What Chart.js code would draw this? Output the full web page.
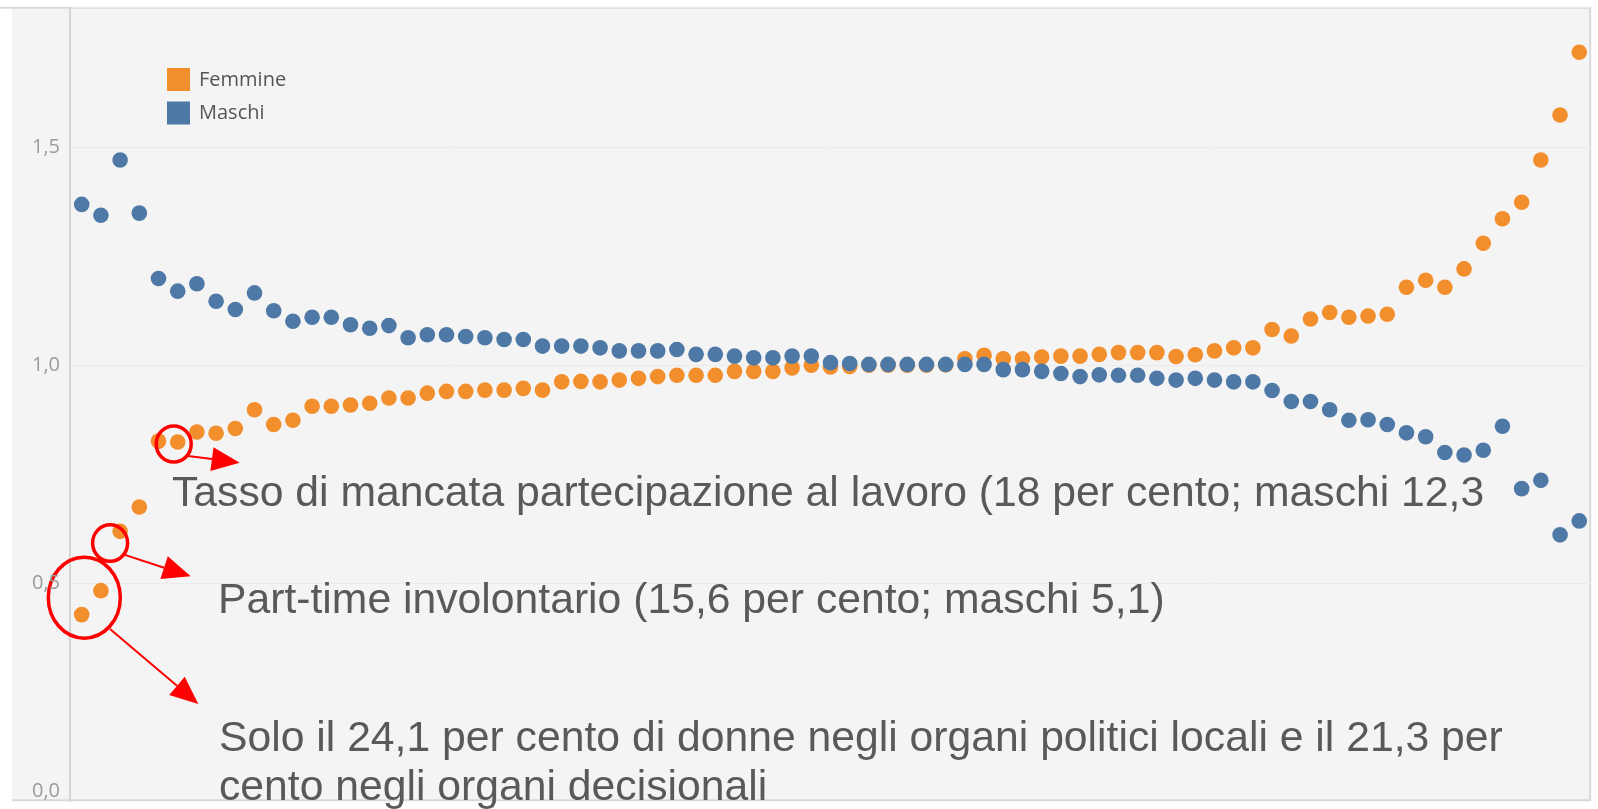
<!DOCTYPE html>
<html>
<head>
<meta charset="utf-8">
<script src="https://cdn.jsdelivr.net/npm/chart.js@4.4.0/dist/chart.umd.min.js"></script>
<style>
  html, body { margin: 0; padding: 0; background: #ffffff; }
  canvas { display: block; }
</style>
</head>
<body>
<canvas id="chart_indicatori_genere" width="1598" height="809"></canvas>
<script>
// indicatori (posizione sull'asse x, etichette non mostrate)
var categorie = [
  1, 2, 3, 4, 5, 6, 7, 8, 9, 10, 11, 12, 13, 14, 15, 16, 17, 18, 19, 20,
  21, 22, 23, 24, 25, 26, 27, 28, 29, 30, 31, 32, 33, 34, 35, 36, 37, 38, 39, 40,
  41, 42, 43, 44, 45, 46, 47, 48, 49, 50, 51, 52, 53, 54, 55, 56, 57, 58, 59, 60,
  61, 62, 63, 64, 65, 66, 67, 68, 69, 70, 71, 72, 73, 74, 75, 76, 77, 78, 79
];

var femmine = [
  0.428, 0.483, 0.619, 0.675, 0.826, 0.824, 0.847, 0.844, 0.855, 0.898,
  0.864, 0.874, 0.906, 0.906, 0.909, 0.913, 0.925, 0.925, 0.936, 0.940,
  0.940, 0.943, 0.943, 0.947, 0.943, 0.962, 0.963, 0.962, 0.966, 0.970,
  0.974, 0.977, 0.977, 0.977, 0.986, 0.986, 0.986, 0.994, 1.000, 0.996,
  0.997, 1.000, 1.000, 1.000, 1.000, 1.001, 1.015, 1.023, 1.015, 1.015,
  1.019, 1.021, 1.021, 1.025, 1.029, 1.029, 1.029, 1.020, 1.024, 1.033,
  1.040, 1.040, 1.082, 1.067, 1.106, 1.121, 1.110, 1.113, 1.117, 1.179,
  1.195, 1.179, 1.221, 1.280, 1.336, 1.374, 1.471, 1.574, 1.718
];

var maschi = [
  1.369, 1.344, 1.471, 1.349, 1.199, 1.170, 1.187, 1.147, 1.128, 1.166,
  1.125, 1.101, 1.110, 1.110, 1.093, 1.085, 1.091, 1.063, 1.070, 1.070,
  1.066, 1.063, 1.059, 1.059, 1.044, 1.044, 1.044, 1.040, 1.033, 1.033,
  1.033, 1.036, 1.025, 1.025, 1.021, 1.017, 1.017, 1.021, 1.021, 1.006,
  1.004, 1.002, 1.002, 1.002, 1.002, 1.002, 1.002, 1.002, 0.990, 0.990,
  0.986, 0.981, 0.974, 0.978, 0.977, 0.977, 0.970, 0.966, 0.970, 0.966,
  0.962, 0.962, 0.942, 0.917, 0.917, 0.898, 0.874, 0.875, 0.864, 0.845,
  0.836, 0.800, 0.794, 0.805, 0.860, 0.717, 0.736, 0.611, 0.643
];

var serie = ['Femmine', 'Maschi'];
var coloriSerie = ['#f28e2b', '#4e79a7'];

var yTickValori = [0, 0.5, 1, 1.5];
var yTickEtichette = ['0,0', '0,5', '1,0', '1,5'];

// note: testo, punti Femmine cerchiati
var noteTesti = [
  ['Tasso di mancata partecipazione al lavoro (18 per cento; maschi 12,3'],
  ['Part-time involontario (15,6 per cento; maschi 5,1)'],
  ['Solo il 24,1 per cento di donne negli organi politici locali e il 21,3 per', 'cento negli organi decisionali']
];
var notePunti = [[5], [2], [0, 1]];

function punti(valori) {
  return valori.map(function (v, i) { return { x: i, y: v }; });
}

// geometria delle note, relativa al punto cerchiato
var noteForme = [
  { dx: -4, dy: 2, rx: 17.5, ry: 18, sx: 10.5, sy: 14, tx: 62, ty: 20.7, testoX: 172, testoY: 506 },
  { dx: -10, dy: 11.7, rx: 17.5, ry: 18.3, sx: 4, sy: 23.3, tx: 70.6, ty: 45, testoX: 218, testoY: 613 },
  { dx: -7, dy: -5, rx: 36, ry: 40.5, sx: 18.7, sy: 26.3, tx: 107, ty: 101.3, testoX: 219, testoY: 751 }
];

function freccia(ctx, x0, y0, x1, y1) {
  var ang = Math.atan2(y1 - y0, x1 - x0), L = 28, W = 12;
  var bx = x1 - L * Math.cos(ang), by = y1 - L * Math.sin(ang);
  ctx.beginPath();
  ctx.moveTo(x0, y0);
  ctx.lineTo(bx, by);
  ctx.stroke();
  ctx.beginPath();
  ctx.moveTo(x1, y1);
  ctx.lineTo(bx + W * Math.sin(ang), by - W * Math.cos(ang));
  ctx.lineTo(bx - W * Math.sin(ang), by + W * Math.cos(ang));
  ctx.closePath();
  ctx.fill();
}

var sfondoPlugin = {
  id: 'sfondo',
  beforeDraw: function (chart) {
    var ctx = chart.ctx, a = chart.chartArea;
    ctx.save();
    ctx.fillStyle = '#ffffff';
    ctx.fillRect(0, 0, chart.width, chart.height);
    ctx.fillStyle = '#f4f4f4';
    ctx.fillRect(12, a.top, a.right - 12, a.bottom - a.top);
    ctx.strokeStyle = '#d9d9d9';
    ctx.lineWidth = 2;
    ctx.beginPath();
    ctx.moveTo(0, a.top);
    ctx.lineTo(a.right + 1, a.top);
    ctx.moveTo(a.right, a.top);
    ctx.lineTo(a.right, a.bottom);
    ctx.moveTo(12, a.bottom - 1);
    ctx.lineTo(a.right, a.bottom - 1);
    ctx.stroke();
    ctx.restore();
  },
  afterDraw: function (chart) {
    var ctx = chart.ctx, a = chart.chartArea, y = chart.scales.y;
    ctx.save();
    // etichette asse y
    ctx.font = '20px "Open Sans"';
    ctx.fillStyle = '#9b9b9b';
    ctx.textAlign = 'right';
    ctx.textBaseline = 'middle';
    yTickValori.forEach(function (v, i) {
      var py = Math.min(y.getPixelForValue(v), a.bottom - 10);
      ctx.fillText(yTickEtichette[i], 60, py);
    });
    // legenda
    ctx.font = '20px "Open Sans"';
    ctx.textAlign = 'left';
    serie.forEach(function (nome, i) {
      var top = 68 + i * 33.5;
      ctx.fillStyle = coloriSerie[i];
      ctx.fillRect(167, top, 23, 23);
      ctx.fillStyle = '#555555';
      ctx.fillText(nome, 199, top + 12);
    });
    ctx.restore();
  }
};

var notePlugin = {
  id: 'note',
  afterDatasetsDraw: function (chart) {
    var ctx = chart.ctx, xs = chart.scales.x, ys = chart.scales.y;
    ctx.save();
    noteTesti.forEach(function (righe, n) {
      var f = noteForme[n], px = 0, py = 0;
      notePunti[n].forEach(function (i) {
        px += xs.getPixelForValue(i);
        py += ys.getPixelForValue(femmine[i]);
      });
      px /= notePunti[n].length;
      py /= notePunti[n].length;
      ctx.strokeStyle = '#ff0000';
      ctx.fillStyle = '#ff0000';
      ctx.lineWidth = 3.5;
      ctx.beginPath();
      ctx.ellipse(px + f.dx, py + f.dy, f.rx, f.ry, 0, 0, Math.PI * 2);
      ctx.stroke();
      ctx.lineWidth = 2;
      freccia(ctx, px + f.sx, py + f.sy, px + f.tx, py + f.ty);
      ctx.font = '42.7px "Liberation Sans", Arial, sans-serif';
      ctx.fillStyle = '#595959';
      ctx.textAlign = 'left';
      ctx.textBaseline = 'alphabetic';
      righe.forEach(function (r, k) {
        ctx.fillText(r, f.testoX, f.testoY + k * 49);
      });
    });
    ctx.restore();
  }
};

var chart_indicatori_genere = new Chart(document.getElementById('chart_indicatori_genere'), {
  type: 'scatter',
  data: {
    labels: categorie,
    datasets: [
      {
        label: serie[0],
        data: punti(femmine),
        backgroundColor: coloriSerie[0],
        borderWidth: 0,
        pointRadius: 7.8,
        pointHoverRadius: 7.8,
        order: 2
      },
      {
        label: serie[1],
        data: punti(maschi),
        backgroundColor: coloriSerie[1],
        borderWidth: 0,
        pointRadius: 7.8,
        pointHoverRadius: 7.8,
        order: 1
      }
    ]
  },
  options: {
    animation: false,
    responsive: false,
    events: [],
    layout: {
      padding: { left: 70, right: 7, top: 5, bottom: 1 }
    },
    plugins: {
      legend: { display: false },
      tooltip: { enabled: false },
      title: { display: false }
    },
    scales: {
      x: {
        type: 'linear',
        display: false,
        min: -0.61,
        max: 78.57
      },
      y: {
        min: 0,
        max: 1.82,
        ticks: { display: false, stepSize: 0.5 },
        grid: {
          drawTicks: false,
          color: function (c) { return c.tick.value === 0 ? 'rgba(0,0,0,0)' : '#ebebeb'; },
          lineWidth: 1
        },
        border: { display: true, color: '#d4d4d4', width: 2 },
        afterFit: function (s) { s.width = 0; }
      }
    }
  },
  plugins: [sfondoPlugin, notePlugin]
});
</script>
</body>
</html>
